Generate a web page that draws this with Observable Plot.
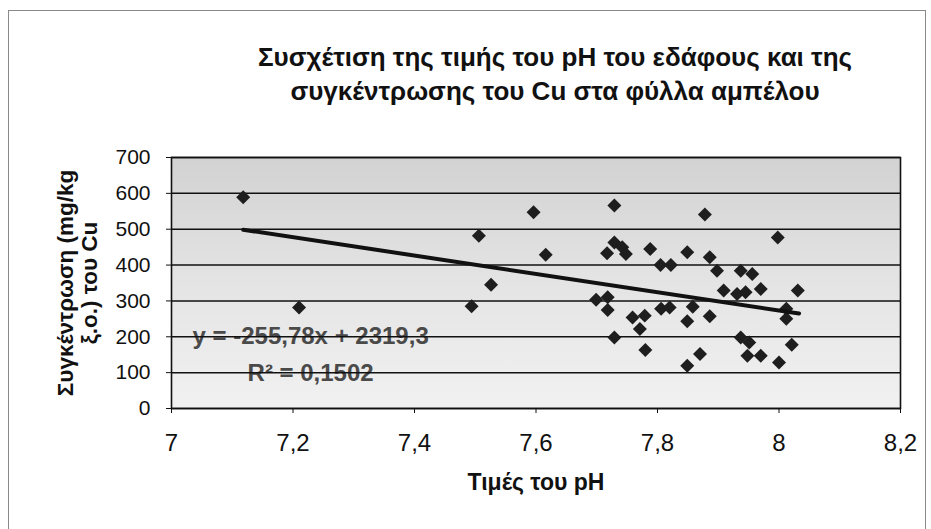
<!DOCTYPE html>
<html><head><meta charset="utf-8">
<script src="https://cdn.jsdelivr.net/npm/d3@7"></script>
<script src="https://cdn.jsdelivr.net/npm/@observablehq/plot@0.6"></script>
<style>
html,body{margin:0;padding:0;background:#fff;}
body{width:931px;height:529px;overflow:hidden;position:relative;font-family:"Liberation Sans",Arial,sans-serif;color:#111;}
#frame{position:absolute;left:8px;top:10px;width:918px;height:560px;border:1px solid #8a8a8a;box-sizing:border-box;pointer-events:none;}
#head{position:relative;height:130px;}
#title{position:absolute;left:155px;top:40px;width:800px;text-align:center;font-weight:bold;font-size:26px;line-height:34px;}
#chart svg{display:block;}
</style></head>
<body>
<div id="frame"></div>
<div id="head"><div id="title">Συσχέτιση της τιμής του pH του εδάφους και της<br>συγκέντρωσης του Cu στα φύλλα αμπέλου</div></div>
<div id="chart"></div>
<script>
// pH values of the soil samples
const ph = [7.118, 7.210, 7.494, 7.506, 7.526, 7.596, 7.616, 7.699, 7.718, 7.718,
  7.717, 7.729, 7.729, 7.742, 7.748, 7.729, 7.759, 7.779, 7.771, 7.780,
  7.788, 7.805, 7.822, 7.806, 7.820, 7.849, 7.849, 7.858, 7.849, 7.870,
  7.878, 7.886, 7.886, 7.898, 7.909, 7.931, 7.937, 7.945, 7.956, 7.970,
  7.937, 7.951, 7.948, 7.970, 7.998, 8.000, 8.012, 8.012, 8.021, 8.031];
// Cu concentration in vine leaves (mg/kg d.m.)
const cu = [589, 282, 285, 482, 345, 547, 429, 303, 310, 275,
  433, 463, 566, 450, 431, 198, 254, 259, 222, 163,
  445, 400, 400, 278, 282, 436, 243, 284, 119, 152,
  541, 422, 257, 384, 329, 319, 384, 324, 375, 333,
  198, 184, 147, 147, 477, 128, 278, 250, 178, 329];
// trendline end points (as drawn)
const trendX = [7.118, 8.033];
const trendY = [498.6, 264.8];
const xTicks = [7, 7.2, 7.4, 7.6, 7.8, 8, 8.2];
const yTicks = [0, 100, 200, 300, 400, 500, 600, 700];
const eqLines = ["y = -255,78x + 2319,3", "R² = 0,1502"];
const eqY = [202, 99];
const yLabel = "Συγκέντρωση (mg/kg\nξ.ο.) του Cu";
const xLabel = "Τιμές του pH";

const points = ph.map((p, i) => ({ph: p, cu: cu[i]}));
const trend = trendX.map((x, i) => ({x, y: trendY[i]}));
const eq = eqLines.map((t, i) => ({t, y: eqY[i]}));

function background(index, scales, values, dimensions) {
  const {marginLeft, marginTop, width, height, marginRight, marginBottom} = dimensions;
  const g = d3.create("svg:g");
  const grad = g.append("defs").append("linearGradient")
    .attr("id", "bg").attr("x1", 0).attr("y1", 0).attr("x2", 0).attr("y2", 1);
  grad.append("stop").attr("offset", "0%").attr("stop-color", "#d2d2d2");
  grad.append("stop").attr("offset", "50%").attr("stop-color", "#e4e4e4");
  grad.append("stop").attr("offset", "100%").attr("stop-color", "#f1f1f1");
  g.append("rect").attr("x", marginLeft).attr("y", marginTop)
    .attr("width", width - marginLeft - marginRight)
    .attr("height", height - marginTop - marginBottom)
    .attr("fill", "url(#bg)");
  return g.node();
}

const plot = Plot.plot({
  width: 931,
  height: 399,
  marginLeft: 171,
  marginRight: 31,
  marginTop: 27,
  marginBottom: 121,
  style: {fontFamily: "'Liberation Sans', Arial, sans-serif", fontSize: "21px", color: "#111", background: "transparent"},
  x: {domain: [7, 8.2]},
  y: {domain: [0, 700]},
  marks: [
    background,
    Plot.text(eq, {x: 7.229, y: "y", text: "t", fontSize: 24, fontWeight: "bold", fill: "#4a4a4a", textAnchor: "middle"}),
    Plot.ruleY(yTicks, {stroke: "#111", strokeWidth: 1.5}),
    Plot.frame({stroke: "#111", strokeWidth: 1.6}),
    Plot.axisX(xTicks, {tickSize: 5, tickPadding: 20, tickFormat: d => String(d).replace(".", ","), label: null, fontSize: 24}),
    Plot.axisY(yTicks, {tickSize: 5, tickPadding: 16, label: null, fontSize: 21}),
    Plot.text([xLabel], {frameAnchor: "bottom", dy: 81, fontWeight: "bold", fontSize: 23}),
    Plot.text([yLabel], {frameAnchor: "left", dx: -94, rotate: -90, textAnchor: "middle", fontWeight: "bold", fontSize: 22.5, lineHeight: 1.03}),
    Plot.dot(points, {x: "ph", y: "cu", symbol: "diamond2", r: 6.3, fill: "#1e1e1e", stroke: "none"}),
    Plot.line(trend, {x: "x", y: "y", stroke: "#111", strokeWidth: 4})
  ]
});
document.getElementById("chart").appendChild(plot);
</script>
</body></html>
